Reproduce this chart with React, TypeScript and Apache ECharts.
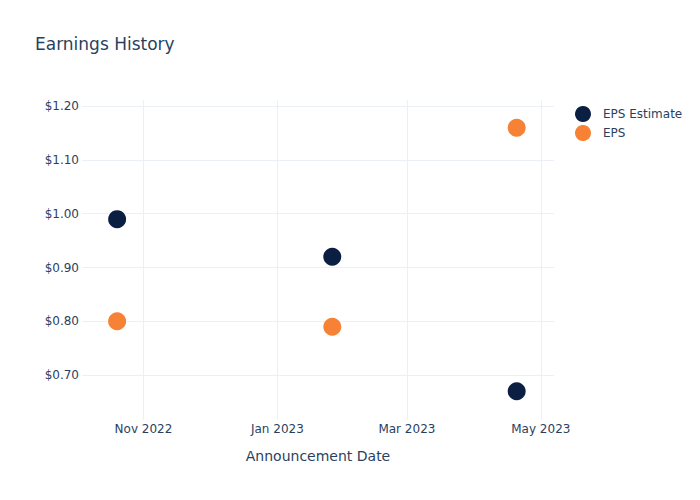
import React, { useEffect, useRef } from "react";
import * as echarts from "echarts";

const dates = ["2022-10-20", "2023-01-26", "2023-04-20"];
const epsEstimate = [0.99, 0.92, 0.67];
const eps = [0.8, 0.79, 1.16];
const xTickDates = ["2022-11-01", "2023-01-01", "2023-03-01", "2023-05-01"];
const xTickLabels = ["Nov 2022", "Jan 2023", "Mar 2023", "May 2023"];
const yTicks = [0.7, 0.8, 0.9, 1.0, 1.1, 1.2];

const ts = (d: string) => new Date(d + "T00:00:00Z").getTime();

export default function App() {
  const ref = useRef<HTMLDivElement>(null);
  useEffect(() => {
    if (!ref.current) return;
    const chart = echarts.init(ref.current, undefined, { renderer: "svg" });
    const font = "DejaVu Sans";
    const textColor = "#2a3f5f";
    const gridColor = "#EBF0F8";
    const xTickTs = xTickDates.map(ts);
    chart.setOption({
      animation: false,
      textStyle: { fontFamily: font },
      title: {
        text: "Earnings History",
        left: 22,
        top: 22,
        textStyle: { fontFamily: font, fontSize: 17, fontWeight: "normal", color: textColor },
      },
      legend: {
        orient: "vertical",
        left: 562,
        top: 93,
        itemGap: 3,
        itemWidth: 16,
        itemHeight: 16,
        icon: "circle",
        textStyle: { fontFamily: font, fontSize: 12, color: textColor, padding: [0, 0, 0, 7] },
        data: ["EPS Estimate", "EPS"],
      },
      grid: { left: 74, right: 154, top: 92, bottom: 88, containLabel: false },
      xAxis: {
        type: "value",
        min: ts("2022-10-04"),
        max: ts("2023-05-07"),
        name: "Announcement Date",
        nameLocation: "middle",
        nameGap: 29,
        nameTextStyle: { fontFamily: font, fontSize: 14, color: textColor },
        axisLine: { show: false },
        axisTick: { show: false, customValues: xTickTs },
        axisLabel: {
          customValues: xTickTs,
          fontFamily: font,
          fontSize: 12,
          color: textColor,
          margin: 3,
          formatter: (v: number) => {
            const i = xTickTs.indexOf(v);
            return i >= 0 ? xTickLabels[i] : "";
          },
        },
        splitLine: { show: true, lineStyle: { color: gridColor, width: 1 } },
      },
      yAxis: {
        type: "value",
        min: 0.6165,
        max: 1.2115,
        axisLine: { show: false },
        axisTick: { show: false, customValues: yTicks },
        axisLabel: {
          customValues: yTicks,
          fontFamily: font,
          fontSize: 12,
          color: textColor,
          margin: 3,
          formatter: (v: number) => "$" + v.toFixed(2),
        },
        splitLine: { show: true, lineStyle: { color: gridColor, width: 1 } },
      },
      series: [
        {
          name: "EPS Estimate",
          type: "scatter",
          symbolSize: 18,
          itemStyle: { color: "#0b1f42", opacity: 1 },
          data: dates.map((d, i) => [ts(d), epsEstimate[i]]),
        },
        {
          name: "EPS",
          type: "scatter",
          symbolSize: 18,
          itemStyle: { color: "#f78134", opacity: 1 },
          data: dates.map((d, i) => [ts(d), eps[i]]),
        },
      ],
    });
    return () => chart.dispose();
  }, []);
  return <div ref={ref} style={{ width: 700, height: 500 }} />;
}
